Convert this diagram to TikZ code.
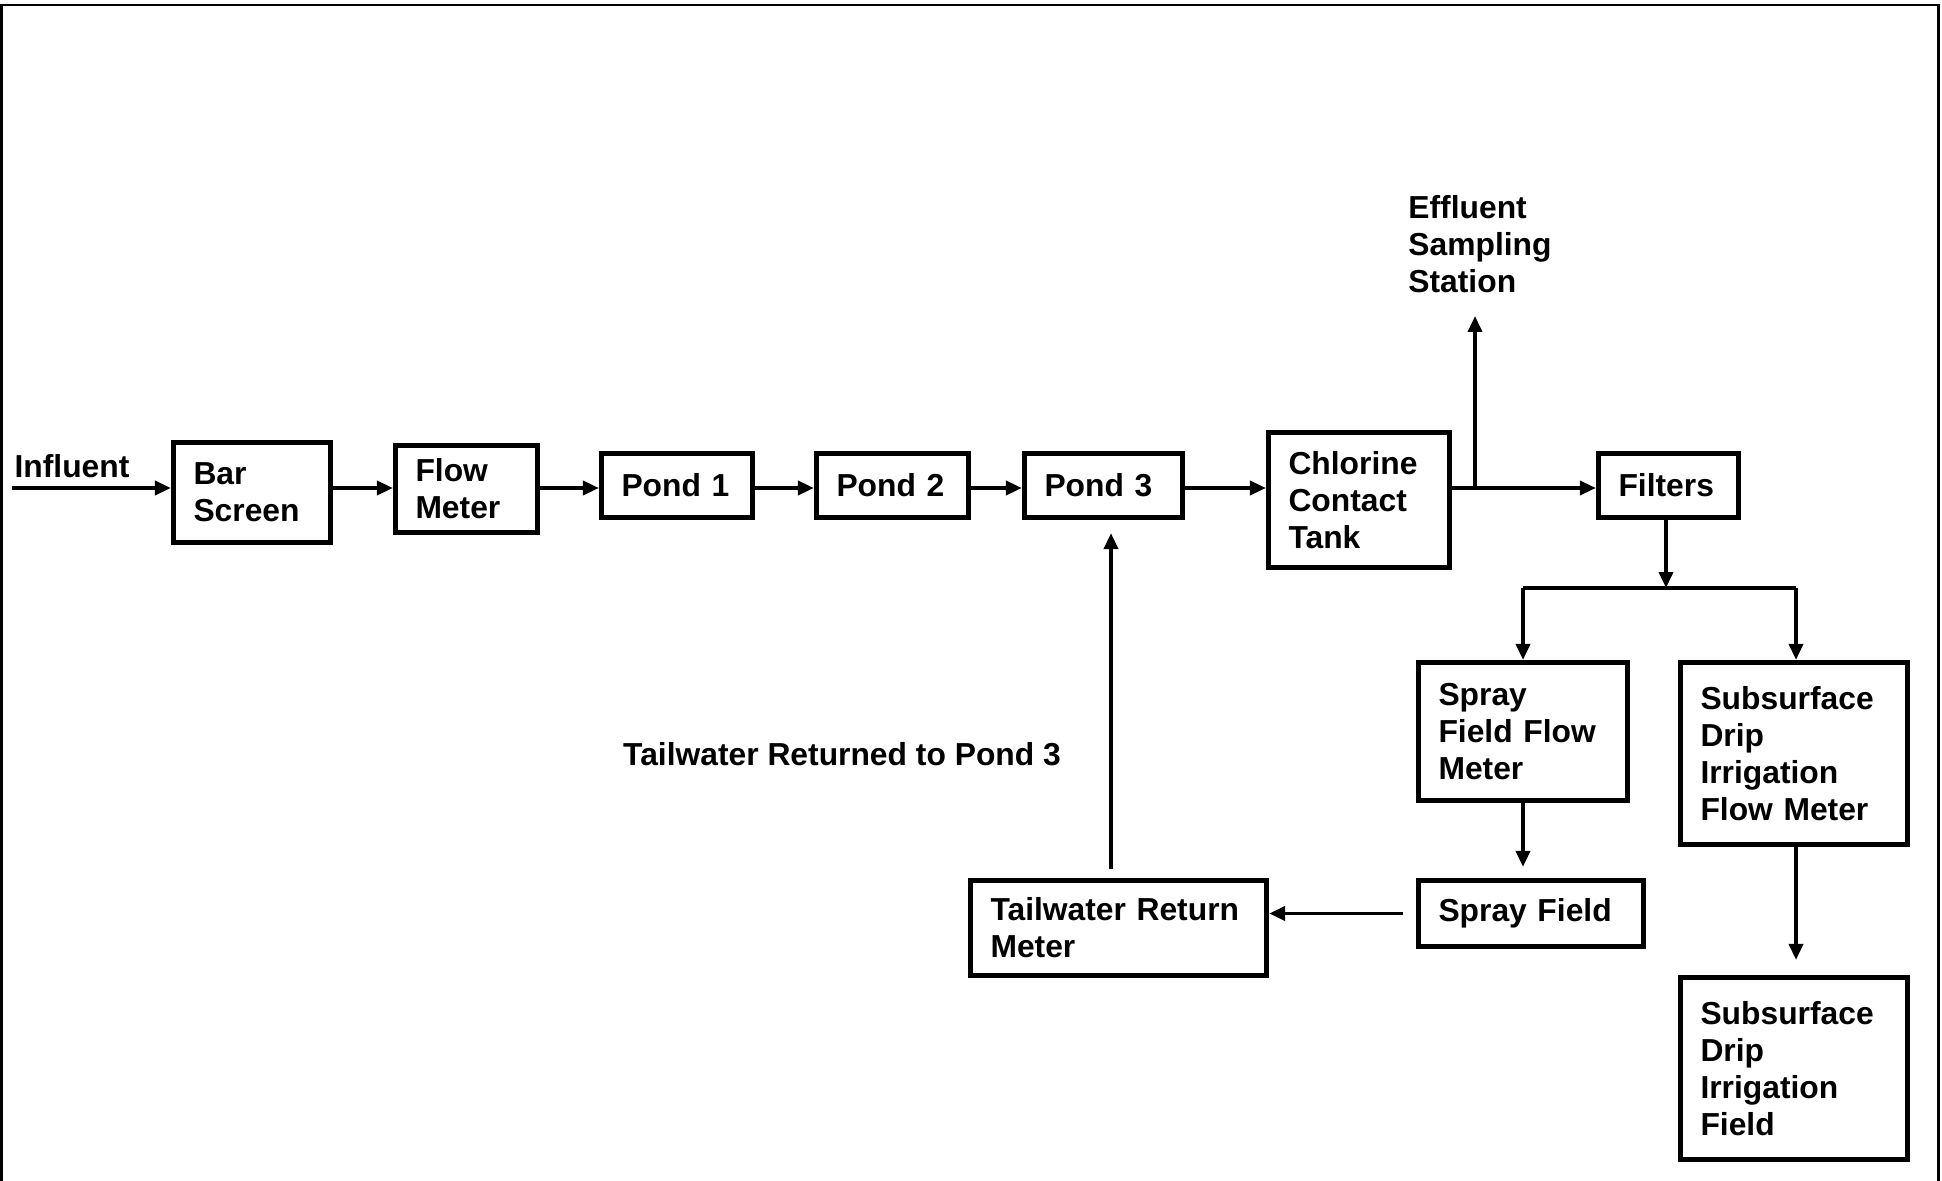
\documentclass[tikz,border=0pt]{standalone}
\usepackage{fontspec}
\setmainfont{Liberation Sans}
\usetikzlibrary{arrows.meta}
\begin{document}
\begin{tikzpicture}[x=0.5pt,y=-0.5pt,
  font=\fontsize{15.9}{18.4}\selectfont\bfseries,
  box/.style={draw, line width=2.6pt, align=left, inner xsep=10pt, inner ysep=0pt},
  arr/.style={line width=1.8pt, -{Triangle[length=8pt,width=7pt]}},
  plain/.style={line width=1.8pt},
  lbl/.style={inner sep=0pt, align=left}]
\useasboundingbox (0,0) rectangle (1942,1181);
\draw[line width=1.4pt] (1.5,1181) -- (1.5,5) -- (1938.5,5) -- (1938.5,1181);

% boxes
\node[box, minimum width=78.5pt, minimum height=50pt, text width=58.5pt] (bs) at (252,492.5) {Bar\\Screen};
\node[box, minimum width=71pt, minimum height=43.5pt, text width=51pt] (fm) at (466.5,489) {Flow\\Meter};
\node[box, minimum width=75.5pt, minimum height=32pt, text width=55.5pt] (p1) at (677,485.5) {Pond 1};
\node[box, minimum width=76pt, minimum height=32pt, text width=56pt] (p2) at (892.5,485.5) {Pond 2};
\node[box, minimum width=79pt, minimum height=32pt, text width=59pt] (p3) at (1103.5,485.5) {Pond 3};
\node[box, minimum width=90.5pt, minimum height=67.5pt, text width=70.5pt] (cct) at (1359,500) {Chlorine\\Contact\\Tank};
\node[box, minimum width=70pt, minimum height=32pt, text width=50pt] (fil) at (1668.5,485.5) {Filters};
\node[box, minimum width=104.5pt, minimum height=69pt, text width=84.5pt] (sffm) at (1523,731.5) {Spray\\Field Flow\\Meter};
\node[box, minimum width=113.5pt, minimum height=91pt, text width=93.5pt] (sdfm) at (1794,753.5) {Subsurface\\Drip\\Irrigation\\Flow Meter};
\node[box, minimum width=112.5pt, minimum height=33pt, text width=92.5pt] (sf) at (1531,913.5) {Spray Field};
\node[box, minimum width=113.5pt, minimum height=91pt, text width=93.5pt] (sdf) at (1794,1068.5) {Subsurface\\Drip\\Irrigation\\Field};
\node[box, minimum width=148pt, minimum height=47.5pt, text width=128pt] (trm) at (1118.5,928) {Tailwater Return\\Meter};

% labels
\node[lbl] (inflbl) at (72,466) {Influent};
\node[lbl, anchor=west] (efflbl) at (1408,244) {Effluent\\Sampling\\Station};
\node[lbl] (twlbl) at (842,754) {Tailwater Returned to Pond 3};

% coordinates
\coordinate (ml) at (0,488);
\coordinate (inf) at (12,488);
\coordinate (es) at (1475,316);
\coordinate (jn) at (1666,588);
\coordinate (jl) at (1523,588);
\coordinate (jr) at (1796,588);
\coordinate (tw) at (1111,0);

% main line
\draw[arr] (inf) -- (bs.west |- ml);
\draw[arr] (bs.east |- ml) -- (fm.west |- ml);
\draw[arr] (fm.east |- ml) -- (p1.west |- ml);
\draw[arr] (p1.east |- ml) -- (p2.west |- ml);
\draw[arr] (p2.east |- ml) -- (p3.west |- ml);
\draw[arr] (p3.east |- ml) -- (cct.west |- ml);
\draw[arr] (cct.east |- ml) -- (fil.west |- ml);
\draw[arr] (es |- ml) -- (es);

% distribution
\draw[arr] (fil.south -| jn) -- (jn);
\draw[plain] (jl) -- (jr);
\draw[arr] (jl) -- (sffm.north);
\draw[arr] (jr) -- (jr |- sdfm.north);
\draw[arr, shorten >=5.5pt] (sffm.south) -- (sffm.south |- sf.north);
\draw[arr, shorten >=7.5pt] (sdfm.south -| jr) -- (jr |- sdf.north);
\draw[arr, shorten <=6.5pt] (sf.west) -- (sf.west -| trm.east);
\draw[arr, shorten <=4.5pt, shorten >=6.5pt] (trm.north -| tw) -- (p3.south -| tw);
\end{tikzpicture}
\end{document}
